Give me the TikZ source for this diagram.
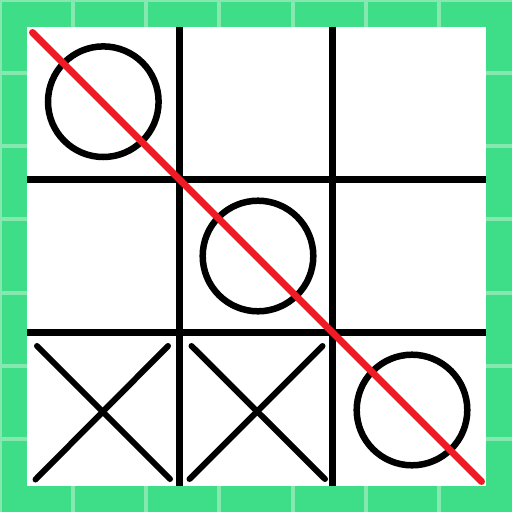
\documentclass[tikz,border=0pt]{standalone}
\definecolor{bggreen}{RGB}{62,221,135}
\definecolor{gridlight}{RGB}{132,232,175}
\definecolor{winred}{RGB}{236,28,38}
\tikzset{
  boardline/.style={line width=7pt, black},
  ostroke/.style={line width=6.5pt, black},
  xstroke/.style={line width=6pt, black, line cap=round},
  winline/.style={line width=7pt, winred, line cap=round},
}
\begin{document}
\begin{tikzpicture}[x=1pt,y=-1pt]
\useasboundingbox (0,0) rectangle (512,512);
% green background with light grid
\fill[bggreen] (0,0) rectangle (512,512);
\foreach \i in {0,...,6}{
  \draw[gridlight, line width=4pt] ({\i*512/7},0) -- ({\i*512/7},512);
  \draw[gridlight, line width=4pt] (0,{\i*512/7}) -- (512,{\i*512/7});
}
% white board
\fill[white] (27,27) rectangle (486,486);
% board lines
\draw[boardline] (179.5,27) -- (179.5,486);
\draw[boardline] (332.5,27) -- (332.5,486);
\draw[boardline] (27,179.5) -- (486,179.5);
\draw[boardline] (27,332.5) -- (486,332.5);
% O marks
\draw[ostroke] (103.3,101.7) circle (55.3);
\draw[ostroke] (258,256) circle (55.3);
\draw[ostroke] (412,410) circle (55.3);
% X marks
\draw[xstroke] (37,346) -- (170,479);
\draw[xstroke] (168,346) -- (35.5,479.5);
\draw[xstroke] (191.5,346) -- (325,479);
\draw[xstroke] (322.5,346) -- (189.5,479);
% winning line
\draw[winline] (32.5,32.5) -- (481.5,481.5);
\end{tikzpicture}
\end{document}
